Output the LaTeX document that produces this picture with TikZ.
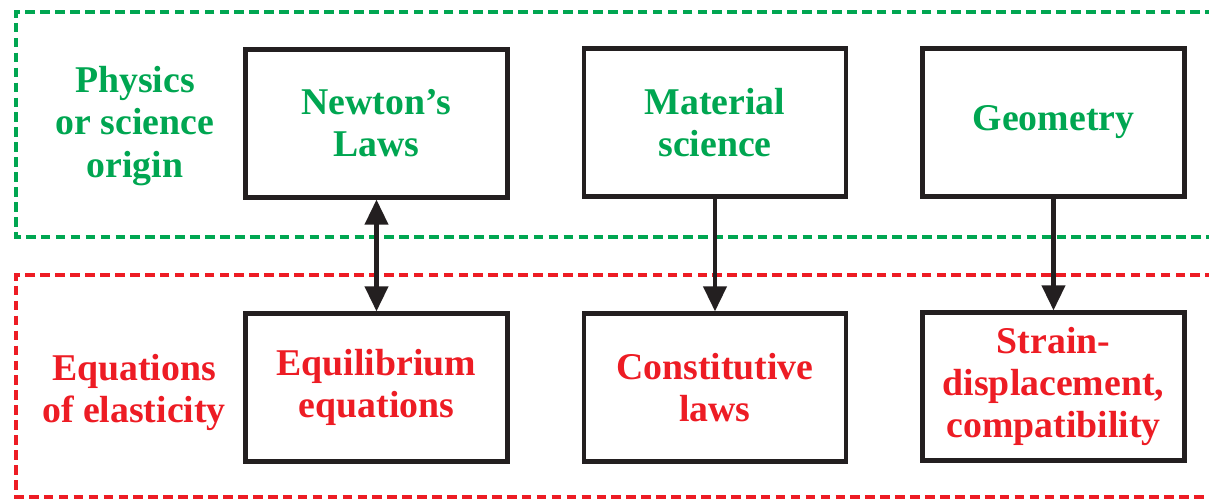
\documentclass[tikz,border=0pt]{standalone}
\usepackage{fontspec}
\setmainfont{Liberation Serif}
\usepackage{xcolor}
\usetikzlibrary{arrows.meta,positioning}

\definecolor{origgreen}{RGB}{0,166,81}
\definecolor{elasred}{RGB}{237,28,36}
\definecolor{boxblack}{RGB}{35,31,32}

\begin{document}
\begin{tikzpicture}[
		box/.style={draw=boxblack, line width=2.7pt, minimum width=5.24cm, minimum height=2.95cm,
				inner sep=2pt, align=center, font=\fontsize{21.5}{24}\selectfont\bfseries},
		physbox/.style={box, text=origgreen},
		elasbox/.style={box, text=elasred},
		grouplabel/.style={align=center, font=\fontsize{21.5}{24}\selectfont\bfseries},
		frame/.style={line width=2.8pt, dash pattern=on 5.5pt off 3pt},
		wire/.style={{Triangle[length=0.5cm, width=0.46cm]}-{Triangle[length=0.5cm, width=0.46cm]}, line width=2.3pt, draw=boxblack},
		downwire/.style={-{Triangle[length=0.5cm, width=0.46cm]}, line width=2.3pt, draw=boxblack}]

		\useasboundingbox (0,0) rectangle (24.18,10);
		\clip (0,0) rectangle (24.18,10);

		% ── dashed group frames ──
		\draw[frame, draw=origgreen] (24.6,9.76) -- (0.32,9.76) -- (0.32,5.26) -- (24.6,5.26);
		\draw[frame, draw=elasred] (24.6,4.5) -- (0.32,4.5) -- (0.32,0.06) -- (24.6,0.06);

		% ── group labels ──
		\node[grouplabel, text=origgreen] (physlabel) at (2.7,7.48) {Physics\\or science\\origin};
		\node[grouplabel, text=elasred] (elaslabel) at (2.68,2.15) {Equations\\of elasticity};

		% ── physics / science boxes ──
		\node[physbox] (newton) at (7.53,7.53) {Newton’s\\Laws};
		\node[physbox] (material) at (14.3,7.55) {Material\\science};
		\node[physbox] (geometry) at (21.07,7.55) {Geometry};

		% ── elasticity boxes ──
		\node[elasbox] (equil) at (7.53,2.25) {Equilibrium\\equations};
		\node[elasbox] (constit) at (14.3,2.25) {Constitutive\\laws};
		\node[elasbox] (straindisp) at (21.07,2.27) {Strain-\\displacement,\\compatibility};

		% ── connectors ──
		\draw[wire] (newton.south) -- (equil.north);
		\draw[downwire] (material.south) -- (constit.north);
		\draw[downwire] (geometry.south) -- (straindisp.north);

	\end{tikzpicture}
\end{document}
